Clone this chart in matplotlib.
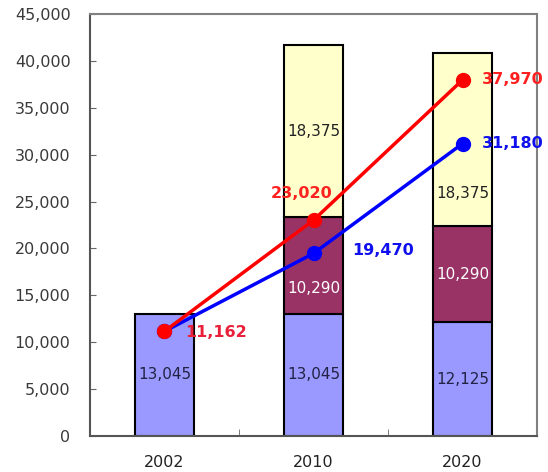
import numpy as np
import matplotlib.pyplot as plt

# data
years = ['2002', '2010', '2020']
seg_bottom = [13045, 13045, 12125]
seg_middle = [0, 10290, 10290]
seg_top = [0, 18375, 18375]
red_line = [11162, 23020, 37970]
blue_line = [11162, 19470, 31180]
yticks = np.arange(0, 45001, 5000)

fig = plt.figure(figsize=(5.48, 4.72), dpi=100)
ax = fig.add_axes([0.1642, 0.0763, 0.8158, 0.894])

x = np.arange(len(years))
w = 0.40
b1 = ax.bar(x, seg_bottom, w, color='#9999FF', edgecolor='black', linewidth=1.5, zorder=2)
b2 = ax.bar(x, seg_middle, w, bottom=seg_bottom, color='#993366',
            edgecolor='black', linewidth=1.5, zorder=2)
bottom2 = np.array(seg_bottom) + np.array(seg_middle)
b3 = ax.bar(x, seg_top, w, bottom=bottom2, color='#FFFFCC',
            edgecolor='black', linewidth=1.5, zorder=2)
# hide empty segments on 2002
for bars in (b2, b3):
    bars[0].set_visible(False)

lab_font = dict(fontsize=11, family='DejaVu Sans', ha='center', va='center', zorder=3)
for i in range(len(years)):
    ax.text(x[i], seg_bottom[i] / 2, f'{seg_bottom[i]:,}', color='#222244', **lab_font)
    if seg_middle[i]:
        ym = seg_bottom[i] + seg_middle[i] / 2
        if i == 1:
            ym = 15700
        ax.text(x[i], ym, f'{seg_middle[i]:,}', color='white', **lab_font)
    if seg_top[i]:
        yt = bottom2[i] + seg_top[i] / 2
        if i == 2:
            yt = 25900
        ax.text(x[i], yt, f'{seg_top[i]:,}', color='#222222', **lab_font)

ax.plot(x, blue_line, color='#0000FF', lw=2.5, marker='o', ms=10, zorder=4)
ax.plot(x, red_line, color='#FF0000', lw=2.5, marker='o', ms=10, zorder=4)

val_font = dict(fontsize=11.5, fontweight='bold', va='center', zorder=5)
ax.text(x[0] + 0.14, red_line[0] - 150, f'{red_line[0]:,}', color='#E8203A', ha='left', **val_font)
ax.text(x[1] - 0.08, red_line[1] + 2800, f'{red_line[1]:,}', color='#FF2020', ha='center', **val_font)
ax.text(x[2] + 0.13, red_line[2], f'{red_line[2]:,}', color='#FF2020', ha='left', **val_font)
ax.text(x[1] + 0.26, blue_line[1] + 300, f'{blue_line[1]:,}', color='#1010EE', ha='left', **val_font)
ax.text(x[2] + 0.13, blue_line[2], f'{blue_line[2]:,}', color='#1010EE', ha='left', **val_font)

ax.set_xlim(-0.5, 2.5)
ax.set_ylim(0, 45000)
ax.set_yticks(yticks)
ax.set_yticklabels([f'{v:,}' for v in yticks], fontsize=11.5, color='#3a3a3a')
ax.set_xticks(x)
ax.set_xticklabels(years, fontsize=11.5, color='#222222')
ax.set_xticks([0.5, 1.5], minor=True)
ax.tick_params(axis='x', which='major', length=0, pad=14)
ax.tick_params(axis='x', which='minor', direction='in', length=5, color='#666666')
ax.tick_params(axis='y', direction='in', length=4, color='#666666', pad=14)
for s in ax.spines.values():
    s.set_color('#808080')
    s.set_linewidth(1.5)
ax.spines['left'].set_color('#555555')
ax.spines['bottom'].set_color('#555555')

fig.savefig('out.png', dpi=100)
